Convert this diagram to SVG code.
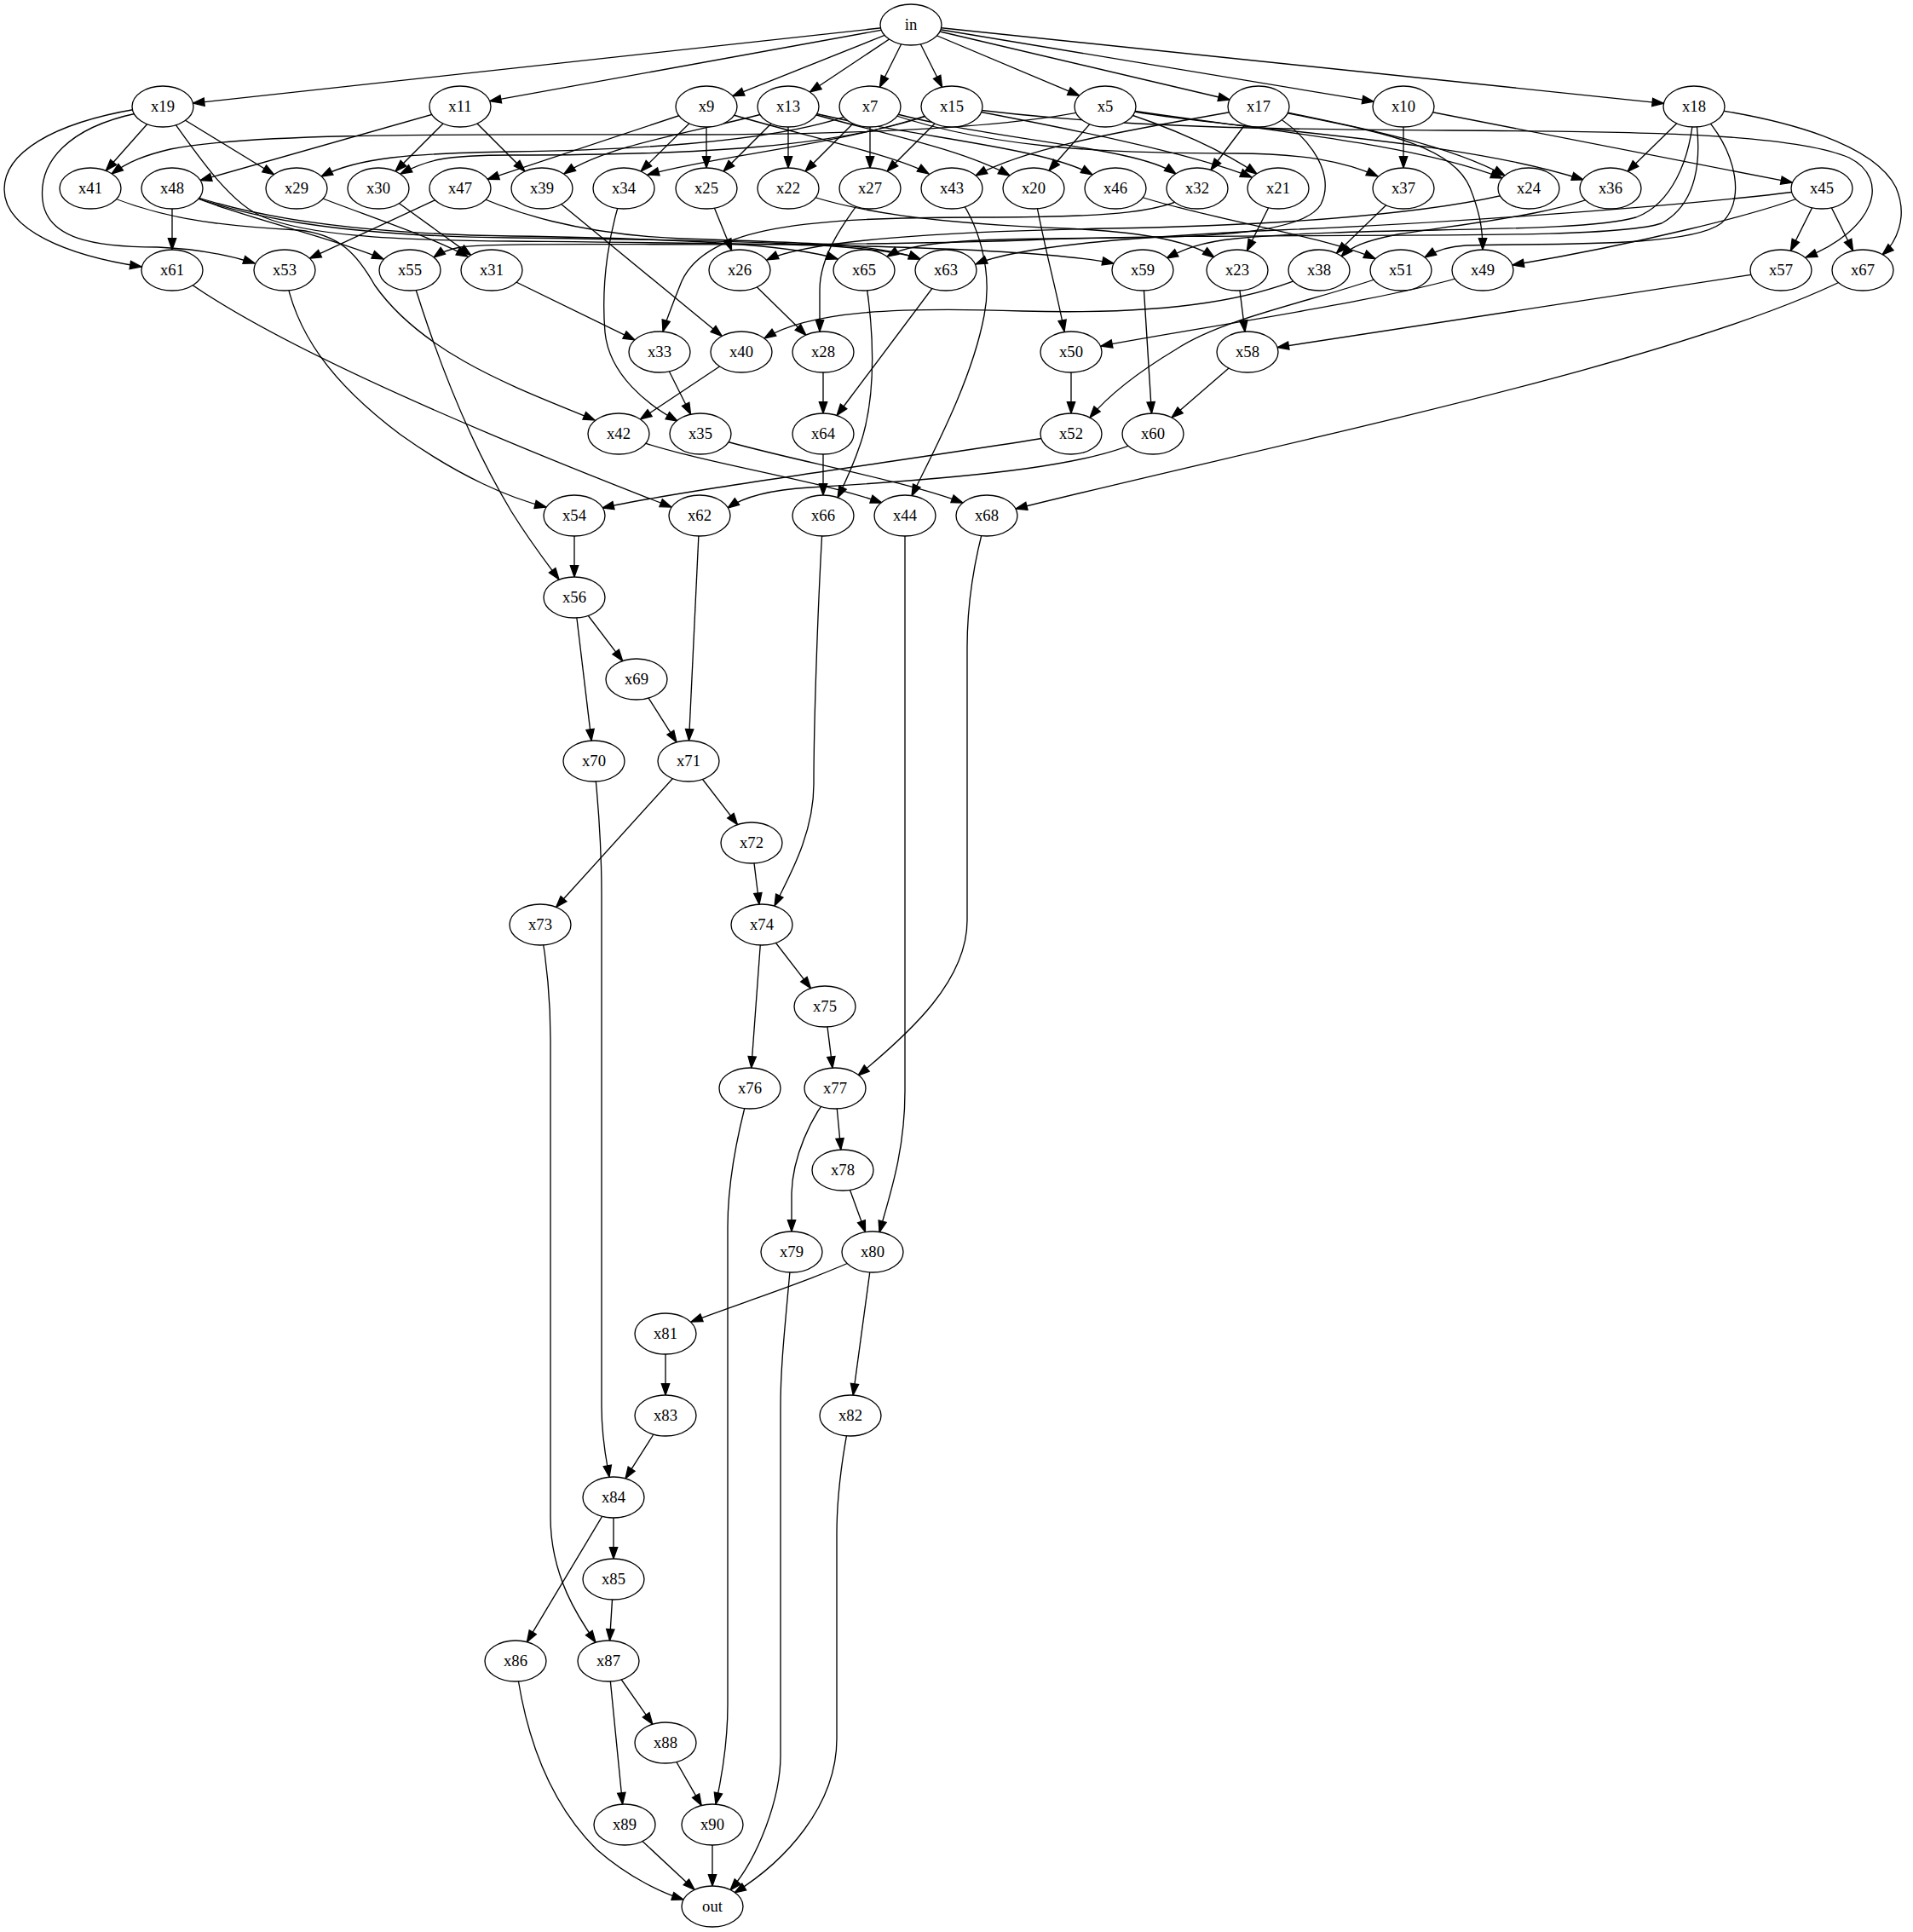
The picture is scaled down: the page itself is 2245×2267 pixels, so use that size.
<svg xmlns="http://www.w3.org/2000/svg" width="2245" height="2267" viewBox="0 0 2245 2267">
<style>
.n ellipse{fill:#fff;stroke:#000;stroke-width:1.33}
.n text{font-family:"Liberation Serif","Times New Roman",serif;font-size:18.67px;text-anchor:middle;fill:#000}
#edges path{fill:none;stroke:#000;stroke-width:1.33;marker-end:url(#ah)}
</style>
<defs>
<marker id="ah" markerUnits="userSpaceOnUse" markerWidth="16" markerHeight="12" refX="13.3" refY="4.67" orient="auto" overflow="visible"><path d="M0,0 L13.3,4.67 L0,9.33 z" fill="#000" stroke="#000" stroke-width="1.33"/></marker>
</defs>
<rect width="2245" height="2267" fill="#fff"/>
<g id="edges">
<path d="M1069,29 L226.5,121.1"/>
<path d="M1069,29 L574.7,118.7"/>
<path d="M1069,29 L859.9,112.7"/>
<path d="M1069,29 L950.5,108"/>
<path d="M1069,29 L1032.4,102.2"/>
<path d="M1069,29 L1105.6,102.2"/>
<path d="M1069,29 L1266.6,112.2"/>
<path d="M1069,29 L1443.1,117"/>
<path d="M1069,29 L1612.1,119.2"/>
<path d="M1069,29 L1952.4,121.3"/>
<path d="M191,125 L124.3,200.3"/>
<path d="M191,125 L321.5,204.8"/>
<path d="M160,128 C60,145 5,180 5,222 C5,270 80,300 166,313"/>
<path d="M160,133 C80,150 45,190 50,235 C55,280 110,290 185,290 C230,292 265,298 299,309"/>
<path d="M191,125 C230,180 270,240 310,255 C360,275 450,282 600,283 C900,286 1200,288 1307,309"/>
<path d="M540,125 L235,211.6"/>
<path d="M540,125 L464,201"/>
<path d="M540,125 L616,201"/>
<path d="M829,125 L572.2,210.3"/>
<path d="M829,125 L752,201"/>
<path d="M829,125 L829,197"/>
<path d="M829,125 C900,150 1050,180 1090,204"/>
<path d="M925,125 L849,201"/>
<path d="M925,125 L925,197"/>
<path d="M925,125 C1000,150 1120,170 1185,206"/>
<path d="M925,125 C1050,160 1220,170 1282,205"/>
<path d="M925,125 C850,150 720,165 662,204"/>
<path d="M1021,125 L945,201"/>
<path d="M1021,125 L1021,197"/>
<path d="M1021,125 C1150,165 1330,170 1380,204"/>
<path d="M1021,125 C1150,175 1300,180 1450,180 C1530,180 1580,190 1617,207"/>
<path d="M1021,125 C950,160 800,175 600,178 C480,180 420,185 377,207"/>
<path d="M1117,125 L1041,201"/>
<path d="M1117,125 C1000,170 850,180 760,205"/>
<path d="M1117,125 C1000,175 800,182 600,182 C520,182 500,188 470,204"/>
<path d="M1117,125 C1250,150 1400,180 1469,208"/>
<path d="M1117,125 C1300,150 1500,152 1700,153 C1900,154 2100,155 2170,185 C2220,210 2200,270 2119,302"/>
<path d="M1297,125 L1231,200.3"/>
<path d="M1297,125 C1380,150 1440,180 1475,204"/>
<path d="M1297,125 C1200,150 1000,158 800,158 C550,158 300,155 200,175 C170,182 150,190 131,204"/>
<path d="M1297,125 C1450,150 1650,165 1763,209"/>
<path d="M1297,125 C1450,155 1700,160 1858,211"/>
<path d="M1477,125 C1380,145 1220,165 1145,206"/>
<path d="M1477,125 L1421,199.5"/>
<path d="M1477,125 C1600,150 1700,170 1766,206"/>
<path d="M1477,125 C1580,150 1700,160 1725,220 C1737,250 1740,270 1740,293"/>
<path d="M1477,125 C1530,150 1570,200 1550,240 C1520,290 1300,275 1150,282 C1090,285 1060,290 1041,301"/>
<path d="M1647,125 L1647,197"/>
<path d="M1647,125 L2103.4,214.2"/>
<path d="M1988,125 L1910,201.3"/>
<path d="M1988,125 C2100,140 2200,170 2225,220 C2240,255 2225,285 2209,299"/>
<path d="M1988,125 C2030,160 2055,230 2020,262 C1980,292 1800,285 1720,288 C1700,289 1685,294 1672,302"/>
<path d="M1988,125 C1985,190 1960,240 1920,255 C1850,275 1600,265 1450,280 C1410,284 1390,292 1369,303"/>
<path d="M1988,125 C2000,190 1990,240 1950,262 C1880,285 1500,270 1200,282 C900,292 600,282 540,290 C525,293 516,297 509,302"/>
<path d="M2138,221 L2101.4,294.2"/>
<path d="M2138,221 L2174.6,294.2"/>
<path d="M2138,221 C2080,250 1900,290 1775,311"/>
<path d="M2138,221 C2000,240 1700,262 1500,270 C1350,277 1200,287 1145,310"/>
<path d="M1794,221 C1700,250 1500,265 1300,268 C1100,272 950,282 900,305"/>
<path d="M1890,221 C1850,250 1700,265 1640,275 C1600,283 1585,290 1574,301"/>
<path d="M1647,221 L1568.4,297.2"/>
<path d="M1309,221 C1400,255 1550,275 1614,303.6"/>
<path d="M1500,221 L1463.4,294.2"/>
<path d="M1405,221 C1380,250 1300,255 1150,255 C950,255 830,265 800,330 C790,355 782,375 778,389"/>
<path d="M925,221 C1000,250 1100,262 1250,268 C1350,272 1400,285 1425,302"/>
<path d="M1213,221 C1225,290 1240,340 1249,389"/>
<path d="M1117,221 C1150,260 1165,320 1155,370 C1140,450 1090,540 1070,582"/>
<path d="M1021,221 C990,260 962,300 962,340 C962,365 962,378 962,389"/>
<path d="M829,221 L858.6,293.8"/>
<path d="M732,221 C715,270 705,330 710,390 C715,440 760,475 795,494"/>
<path d="M636,221 L847.3,394.4"/>
<path d="M540,221 L363.5,303.2"/>
<path d="M540,221 C600,250 680,275 800,280 C950,285 1030,286 1080,304"/>
<path d="M202,221 L202,293"/>
<path d="M202,221 C280,255 380,275 450,304"/>
<path d="M202,221 C280,252 400,274 600,277 C800,280 930,287 983,304"/>
<path d="M202,221 C280,255 400,277 600,279 C850,282 1030,285 1080,304"/>
<path d="M106,221 C180,255 250,265 350,270 C400,275 420,300 440,335 C500,420 620,460 698,493"/>
<path d="M348,221 C420,250 500,275 549,301"/>
<path d="M444,221 L552.6,299.4"/>
<path d="M202,317 C320,410 620,530 788,595"/>
<path d="M334,317 C345,390 390,450 470,510 C540,560 600,585 641,595"/>
<path d="M481,317 C500,380 540,500 600,600 C625,640 645,665 656,680"/>
<path d="M577,317 L744.9,398.8"/>
<path d="M868,317 L945.9,393.3"/>
<path d="M1014,317 C1025,380 1030,460 1010,520 C1000,550 990,570 983,584"/>
<path d="M1110,317 L982.1,487.5"/>
<path d="M1341,317 L1351.5,485"/>
<path d="M1452,317 L1461,389.2"/>
<path d="M1548,317 C1480,350 1380,370 1200,365 C1050,360 950,365 897,397"/>
<path d="M1644,317 C1560,350 1440,370 1380,410 C1330,440 1300,465 1279,490"/>
<path d="M1740,317 C1650,350 1400,385 1292,406"/>
<path d="M2090,317 L1499.1,407.6"/>
<path d="M2186,317 C2000,420 1500,520 1192,597"/>
<path d="M774,413 L810.6,486.2"/>
<path d="M870,413 L751.5,492"/>
<path d="M966,413 L966,485"/>
<path d="M1257,413 L1257,485"/>
<path d="M1464,413 L1375,490"/>
<path d="M726,509 C800,540 950,560 1035,590"/>
<path d="M822,509 C900,535 1050,560 1130,590"/>
<path d="M966,509 L966,581"/>
<path d="M1257,509 C1100,535 800,575 707,596"/>
<path d="M1353,509 C1300,545 1150,560 950,572 C900,575 870,585 854,596"/>
<path d="M674,605 L674,677"/>
<path d="M821,605 L808.5,869"/>
<path d="M966,605 C960,700 955,850 955,920 C955,980 925,1030 909,1063"/>
<path d="M1062,605 L1062,1280 C1062,1350 1045,1400 1032,1446"/>
<path d="M1158,605 C1145,650 1135,700 1135,760 L1135,1080 C1135,1150 1070,1210 1007,1262"/>
<path d="M674,701 L730.7,775.6"/>
<path d="M674,701 L694.1,869.1"/>
<path d="M747,797 L794,870.9"/>
<path d="M808,893 L865.5,967.7"/>
<path d="M808,893 L652.6,1064.5"/>
<path d="M882,989 L891,1061.2"/>
<path d="M697,893 C703,950 706,1000 706,1050 L706,1650 C706,1690 712,1715 715,1733"/>
<path d="M634,1085 C642,1130 646,1170 646,1220 L646,1780 C646,1850 680,1900 699,1927"/>
<path d="M894,1085 L951.5,1159.7"/>
<path d="M894,1085 L881.75,1253"/>
<path d="M968,1181 L977,1253.2"/>
<path d="M880,1277 C868,1320 854,1380 854,1440 L854,2000 C854,2050 846,2090 840,2117"/>
<path d="M980,1277 L986.8,1349.1"/>
<path d="M980,1277 C950,1310 930,1360 929,1400 L929,1445"/>
<path d="M989,1373 L1015.5,1445.7"/>
<path d="M929,1469 C922,1550 916,1600 916,1650 L916,2060 C916,2110 890,2180 857,2218"/>
<path d="M1024,1469 C960,1500 880,1525 811,1551"/>
<path d="M1024,1469 L1001.2,1637.1"/>
<path d="M781,1565 L781,1637"/>
<path d="M998,1661 C990,1700 982,1750 982,1800 L982,2040 C982,2120 920,2185 862,2221"/>
<path d="M781,1661 L734,1734.9"/>
<path d="M720,1757 L720,1829"/>
<path d="M720,1757 L618.4,1926.7"/>
<path d="M720,1853 L715.5,1925"/>
<path d="M605,1949 C615,2030 640,2110 700,2170 C740,2205 780,2222 802,2229"/>
<path d="M714,1949 L765.8,2023.2"/>
<path d="M714,1949 L730.6,2117"/>
<path d="M781,2045 L823.2,2118.6"/>
<path d="M733,2141 L815.1,2217.5"/>
<path d="M836,2141 L836,2213"/>
</g>
<g id="in" class="n"><ellipse cx="1069" cy="29" rx="36" ry="24"/><text x="1069" y="35">in</text></g>
<g id="x19" class="n"><ellipse cx="191" cy="125" rx="36" ry="24"/><text x="191" y="131">x19</text></g>
<g id="x11" class="n"><ellipse cx="540" cy="125" rx="36" ry="24"/><text x="540" y="131">x11</text></g>
<g id="x9" class="n"><ellipse cx="829" cy="125" rx="36" ry="24"/><text x="829" y="131">x9</text></g>
<g id="x13" class="n"><ellipse cx="925" cy="125" rx="36" ry="24"/><text x="925" y="131">x13</text></g>
<g id="x7" class="n"><ellipse cx="1021" cy="125" rx="36" ry="24"/><text x="1021" y="131">x7</text></g>
<g id="x15" class="n"><ellipse cx="1117" cy="125" rx="36" ry="24"/><text x="1117" y="131">x15</text></g>
<g id="x5" class="n"><ellipse cx="1297" cy="125" rx="36" ry="24"/><text x="1297" y="131">x5</text></g>
<g id="x17" class="n"><ellipse cx="1477" cy="125" rx="36" ry="24"/><text x="1477" y="131">x17</text></g>
<g id="x10" class="n"><ellipse cx="1647" cy="125" rx="36" ry="24"/><text x="1647" y="131">x10</text></g>
<g id="x18" class="n"><ellipse cx="1988" cy="125" rx="36" ry="24"/><text x="1988" y="131">x18</text></g>
<g id="x41" class="n"><ellipse cx="106" cy="221" rx="36" ry="24"/><text x="106" y="227">x41</text></g>
<g id="x48" class="n"><ellipse cx="202" cy="221" rx="36" ry="24"/><text x="202" y="227">x48</text></g>
<g id="x29" class="n"><ellipse cx="348" cy="221" rx="36" ry="24"/><text x="348" y="227">x29</text></g>
<g id="x30" class="n"><ellipse cx="444" cy="221" rx="36" ry="24"/><text x="444" y="227">x30</text></g>
<g id="x47" class="n"><ellipse cx="540" cy="221" rx="36" ry="24"/><text x="540" y="227">x47</text></g>
<g id="x39" class="n"><ellipse cx="636" cy="221" rx="36" ry="24"/><text x="636" y="227">x39</text></g>
<g id="x34" class="n"><ellipse cx="732" cy="221" rx="36" ry="24"/><text x="732" y="227">x34</text></g>
<g id="x25" class="n"><ellipse cx="829" cy="221" rx="36" ry="24"/><text x="829" y="227">x25</text></g>
<g id="x22" class="n"><ellipse cx="925" cy="221" rx="36" ry="24"/><text x="925" y="227">x22</text></g>
<g id="x27" class="n"><ellipse cx="1021" cy="221" rx="36" ry="24"/><text x="1021" y="227">x27</text></g>
<g id="x43" class="n"><ellipse cx="1117" cy="221" rx="36" ry="24"/><text x="1117" y="227">x43</text></g>
<g id="x20" class="n"><ellipse cx="1213" cy="221" rx="36" ry="24"/><text x="1213" y="227">x20</text></g>
<g id="x46" class="n"><ellipse cx="1309" cy="221" rx="36" ry="24"/><text x="1309" y="227">x46</text></g>
<g id="x32" class="n"><ellipse cx="1405" cy="221" rx="36" ry="24"/><text x="1405" y="227">x32</text></g>
<g id="x21" class="n"><ellipse cx="1500" cy="221" rx="36" ry="24"/><text x="1500" y="227">x21</text></g>
<g id="x37" class="n"><ellipse cx="1647" cy="221" rx="36" ry="24"/><text x="1647" y="227">x37</text></g>
<g id="x24" class="n"><ellipse cx="1794" cy="221" rx="36" ry="24"/><text x="1794" y="227">x24</text></g>
<g id="x36" class="n"><ellipse cx="1890" cy="221" rx="36" ry="24"/><text x="1890" y="227">x36</text></g>
<g id="x45" class="n"><ellipse cx="2138" cy="221" rx="36" ry="24"/><text x="2138" y="227">x45</text></g>
<g id="x61" class="n"><ellipse cx="202" cy="317" rx="36" ry="24"/><text x="202" y="323">x61</text></g>
<g id="x53" class="n"><ellipse cx="334" cy="317" rx="36" ry="24"/><text x="334" y="323">x53</text></g>
<g id="x55" class="n"><ellipse cx="481" cy="317" rx="36" ry="24"/><text x="481" y="323">x55</text></g>
<g id="x31" class="n"><ellipse cx="577" cy="317" rx="36" ry="24"/><text x="577" y="323">x31</text></g>
<g id="x26" class="n"><ellipse cx="868" cy="317" rx="36" ry="24"/><text x="868" y="323">x26</text></g>
<g id="x65" class="n"><ellipse cx="1014" cy="317" rx="36" ry="24"/><text x="1014" y="323">x65</text></g>
<g id="x63" class="n"><ellipse cx="1110" cy="317" rx="36" ry="24"/><text x="1110" y="323">x63</text></g>
<g id="x59" class="n"><ellipse cx="1341" cy="317" rx="36" ry="24"/><text x="1341" y="323">x59</text></g>
<g id="x23" class="n"><ellipse cx="1452" cy="317" rx="36" ry="24"/><text x="1452" y="323">x23</text></g>
<g id="x38" class="n"><ellipse cx="1548" cy="317" rx="36" ry="24"/><text x="1548" y="323">x38</text></g>
<g id="x51" class="n"><ellipse cx="1644" cy="317" rx="36" ry="24"/><text x="1644" y="323">x51</text></g>
<g id="x49" class="n"><ellipse cx="1740" cy="317" rx="36" ry="24"/><text x="1740" y="323">x49</text></g>
<g id="x57" class="n"><ellipse cx="2090" cy="317" rx="36" ry="24"/><text x="2090" y="323">x57</text></g>
<g id="x67" class="n"><ellipse cx="2186" cy="317" rx="36" ry="24"/><text x="2186" y="323">x67</text></g>
<g id="x33" class="n"><ellipse cx="774" cy="413" rx="36" ry="24"/><text x="774" y="419">x33</text></g>
<g id="x40" class="n"><ellipse cx="870" cy="413" rx="36" ry="24"/><text x="870" y="419">x40</text></g>
<g id="x28" class="n"><ellipse cx="966" cy="413" rx="36" ry="24"/><text x="966" y="419">x28</text></g>
<g id="x50" class="n"><ellipse cx="1257" cy="413" rx="36" ry="24"/><text x="1257" y="419">x50</text></g>
<g id="x58" class="n"><ellipse cx="1464" cy="413" rx="36" ry="24"/><text x="1464" y="419">x58</text></g>
<g id="x42" class="n"><ellipse cx="726" cy="509" rx="36" ry="24"/><text x="726" y="515">x42</text></g>
<g id="x35" class="n"><ellipse cx="822" cy="509" rx="36" ry="24"/><text x="822" y="515">x35</text></g>
<g id="x64" class="n"><ellipse cx="966" cy="509" rx="36" ry="24"/><text x="966" y="515">x64</text></g>
<g id="x52" class="n"><ellipse cx="1257" cy="509" rx="36" ry="24"/><text x="1257" y="515">x52</text></g>
<g id="x60" class="n"><ellipse cx="1353" cy="509" rx="36" ry="24"/><text x="1353" y="515">x60</text></g>
<g id="x54" class="n"><ellipse cx="674" cy="605" rx="36" ry="24"/><text x="674" y="611">x54</text></g>
<g id="x62" class="n"><ellipse cx="821" cy="605" rx="36" ry="24"/><text x="821" y="611">x62</text></g>
<g id="x66" class="n"><ellipse cx="966" cy="605" rx="36" ry="24"/><text x="966" y="611">x66</text></g>
<g id="x44" class="n"><ellipse cx="1062" cy="605" rx="36" ry="24"/><text x="1062" y="611">x44</text></g>
<g id="x68" class="n"><ellipse cx="1158" cy="605" rx="36" ry="24"/><text x="1158" y="611">x68</text></g>
<g id="x56" class="n"><ellipse cx="674" cy="701" rx="36" ry="24"/><text x="674" y="707">x56</text></g>
<g id="x69" class="n"><ellipse cx="747" cy="797" rx="36" ry="24"/><text x="747" y="803">x69</text></g>
<g id="x70" class="n"><ellipse cx="697" cy="893" rx="36" ry="24"/><text x="697" y="899">x70</text></g>
<g id="x71" class="n"><ellipse cx="808" cy="893" rx="36" ry="24"/><text x="808" y="899">x71</text></g>
<g id="x72" class="n"><ellipse cx="882" cy="989" rx="36" ry="24"/><text x="882" y="995">x72</text></g>
<g id="x73" class="n"><ellipse cx="634" cy="1085" rx="36" ry="24"/><text x="634" y="1091">x73</text></g>
<g id="x74" class="n"><ellipse cx="894" cy="1085" rx="36" ry="24"/><text x="894" y="1091">x74</text></g>
<g id="x75" class="n"><ellipse cx="968" cy="1181" rx="36" ry="24"/><text x="968" y="1187">x75</text></g>
<g id="x76" class="n"><ellipse cx="880" cy="1277" rx="36" ry="24"/><text x="880" y="1283">x76</text></g>
<g id="x77" class="n"><ellipse cx="980" cy="1277" rx="36" ry="24"/><text x="980" y="1283">x77</text></g>
<g id="x78" class="n"><ellipse cx="989" cy="1373" rx="36" ry="24"/><text x="989" y="1379">x78</text></g>
<g id="x79" class="n"><ellipse cx="929" cy="1469" rx="36" ry="24"/><text x="929" y="1475">x79</text></g>
<g id="x80" class="n"><ellipse cx="1024" cy="1469" rx="36" ry="24"/><text x="1024" y="1475">x80</text></g>
<g id="x81" class="n"><ellipse cx="781" cy="1565" rx="36" ry="24"/><text x="781" y="1571">x81</text></g>
<g id="x82" class="n"><ellipse cx="998" cy="1661" rx="36" ry="24"/><text x="998" y="1667">x82</text></g>
<g id="x83" class="n"><ellipse cx="781" cy="1661" rx="36" ry="24"/><text x="781" y="1667">x83</text></g>
<g id="x84" class="n"><ellipse cx="720" cy="1757" rx="36" ry="24"/><text x="720" y="1763">x84</text></g>
<g id="x85" class="n"><ellipse cx="720" cy="1853" rx="36" ry="24"/><text x="720" y="1859">x85</text></g>
<g id="x86" class="n"><ellipse cx="605" cy="1949" rx="36" ry="24"/><text x="605" y="1955">x86</text></g>
<g id="x87" class="n"><ellipse cx="714" cy="1949" rx="36" ry="24"/><text x="714" y="1955">x87</text></g>
<g id="x88" class="n"><ellipse cx="781" cy="2045" rx="36" ry="24"/><text x="781" y="2051">x88</text></g>
<g id="x89" class="n"><ellipse cx="733" cy="2141" rx="36" ry="24"/><text x="733" y="2147">x89</text></g>
<g id="x90" class="n"><ellipse cx="836" cy="2141" rx="36" ry="24"/><text x="836" y="2147">x90</text></g>
<g id="out" class="n"><ellipse cx="836" cy="2237" rx="36" ry="24"/><text x="836" y="2243">out</text></g>
</svg>
